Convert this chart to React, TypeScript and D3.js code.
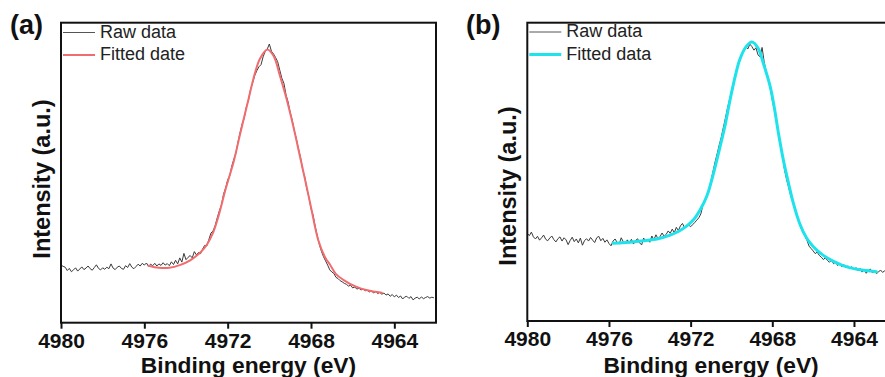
import { axisBottom, curveCatmullRom, curveLinear, line, scaleLinear, select } from "d3";
import React, { useEffect, useRef } from "react";

const width = 885;
const height = 377;
const font = "'Liberation Sans', Arial, sans-serif";

const energyTicks = [4980, 4976, 4972, 4968, 4964];
const energyDomain = [4980, 4962];
const rawStart = 4980;
const rawStep = 0.1;

// (a) raw intensity, 0.1 eV steps from 4980 eV, one row per eV
const rawA = [
  19.2, 18.8, 18.5, 17.4, 18.1, 17.0, 17.6, 18.3, 17.2, 17.9,
  18.6, 17.7, 18.2, 18.9, 18.0, 17.5, 18.4, 19.3, 18.1, 17.6,
  18.3, 17.8, 18.5, 18.0, 19.6, 18.2, 17.7, 18.5, 18.9, 18.1,
  17.8, 19.0, 18.4, 19.7, 18.5, 18.0, 18.7, 19.5, 18.9, 19.8,
  19.2, 19.9, 18.8, 19.5, 19.0, 19.8, 18.9, 19.6, 19.1, 20.0,
  19.2, 19.7, 19.0, 20.3, 19.4, 20.8, 19.6, 21.6, 20.2, 23.1,
  21.0, 21.8, 22.4, 21.6, 23.7, 22.6, 23.4, 23.0, 24.6, 25.8,
  25.6, 27.8, 29.9, 30.6, 32.4, 35.0, 37.3, 39.2, 42.8, 44.9,
  47.6, 49.0, 52.3, 54.6, 56.7, 60.4, 63.5, 66.4, 68.3, 72.0,
  74.2, 77.8, 80.0, 82.4, 84.0, 85.3, 86.0, 88.6, 90.4, 91.2,
  92.9, 90.5, 89.6, 88.4, 87.0, 84.2, 81.5, 79.8, 76.0, 73.6,
  70.1, 67.5, 64.0, 61.2, 57.9, 55.0, 51.0, 48.6, 44.6, 41.9,
  38.0, 35.9, 32.2, 29.0, 26.1, 23.8, 22.0, 20.6, 19.2, 17.6,
  16.9, 16.4, 15.1, 14.7, 14.0, 13.6, 13.1, 12.8, 12.2, 12.5,
  11.6, 11.9, 11.2, 11.5, 10.9, 11.3, 10.6, 10.9, 10.2, 10.7,
  9.9, 10.4, 9.7, 10.1, 9.5, 9.9, 9.2, 9.6, 8.8, 9.4,
  8.6, 9.2, 8.4, 8.9, 7.9, 8.6, 8.8, 8.1, 8.7, 7.6,
  8.2, 8.5, 7.9, 8.6, 8.0, 8.4, 8.7, 8.2, 8.5, 8.3,
];

// (a) fitted curve [eV, intensity]
const fitA = [
  [4975.8, 19.0], [4975.3, 18.3], [4974.8, 18.3], [4974.3, 19.2],
  [4973.8, 20.8], [4973.3, 23.5], [4973.0, 26.0], [4972.7, 30.0],
  [4972.45, 35.3], [4972.1, 44.5], [4971.7, 54.0], [4971.4, 63.0],
  [4971.0, 74.5], [4970.7, 83.0], [4970.45, 88.0], [4970.1, 91.1],
  [4969.8, 89.0], [4969.5, 82.5], [4969.2, 75.3], [4968.85, 65.5],
  [4968.5, 54.5], [4968.2, 45.0], [4968.0, 38.5], [4967.65, 27.5],
  [4967.3, 21.5], [4967.1, 19.5], [4966.8, 16.2], [4966.45, 14.3],
  [4965.84, 12.0], [4965.3, 10.8], [4964.6, 10.0],
];

// (b) raw intensity, 0.1 eV steps from 4980 eV
const rawB = [
  29.4, 28.6, 29.8, 28.2, 27.5, 28.4, 27.1, 27.9, 28.8, 27.4,
  26.9, 27.8, 28.5, 27.3, 26.5, 27.6, 28.2, 26.8, 27.9, 27.2,
  25.6, 27.0, 28.1, 26.6, 27.5, 26.2, 27.8, 25.4, 26.9, 27.6,
  26.8, 28.0, 27.1, 26.3, 27.9, 28.4, 26.9, 27.7, 26.4, 27.2,
  26.0, 25.2, 26.8, 27.5, 26.3, 25.8, 27.9, 26.6, 25.9, 27.2,
  26.1, 27.4, 25.8, 26.9, 27.6, 26.2, 25.5, 27.8, 26.7, 27.3,
  26.4, 28.5, 27.2, 28.9, 27.6, 28.3, 29.5, 28.4, 29.0, 30.2,
  29.4, 30.8, 29.6, 31.4, 30.3, 31.9, 32.7, 31.3, 31.8, 32.2,
  31.6, 32.3, 33.0, 33.8, 34.6, 35.9, 38.8, 40.2, 41.9, 44.0,
  47.2, 50.3, 53.4, 56.1, 59.0, 61.6, 64.8, 67.9, 71.2, 74.1,
  77.0, 80.1, 82.9, 85.6, 87.5, 88.9, 90.8, 92.0, 91.2, 92.8,
  92.0, 90.8, 91.6, 89.2, 88.6, 91.7, 87.0, 83.5, 80.9, 78.0,
  74.0, 70.6, 66.9, 62.5, 58.8, 54.9, 50.6, 47.4, 44.8, 42.0,
  40.1, 37.5, 35.0, 33.4, 31.2, 29.6, 28.4, 27.0, 25.1, 24.3,
  23.5, 22.6, 23.1, 22.0, 21.4, 20.6, 21.2, 20.3, 19.7, 20.4,
  19.2, 19.8, 18.6, 19.3, 18.2, 18.9, 17.8, 18.5, 17.6, 18.2,
  17.2, 17.9, 16.8, 17.6, 16.4, 17.3, 16.0, 16.9, 17.4, 16.2,
  16.8, 15.9, 16.4, 17.1, 16.3, 16.8, 17.4, 16.9, 17.2,
];

// (b) fitted curve [eV, intensity]
const fitB = [
  [4975.8, 26.1], [4975.0, 26.4], [4974.3, 26.9], [4973.6, 27.6],
  [4973.0, 28.8], [4972.6, 30.0], [4972.2, 31.8], [4971.85, 34.0],
  [4971.54, 37.2], [4971.2, 42.0], [4970.9, 49.0], [4970.56, 58.4],
  [4970.3, 66.0], [4970.07, 74.1], [4969.8, 82.5], [4969.6, 87.5],
  [4969.3, 91.8], [4969.0, 93.5], [4968.7, 91.5], [4968.44, 86.4],
  [4968.1, 78.5], [4967.9, 71.5], [4967.7, 63.0], [4967.46, 54.0],
  [4967.2, 46.0], [4966.97, 39.5], [4966.65, 32.5], [4966.32, 27.8],
  [4966.0, 25.0], [4965.5, 22.0], [4965.0, 20.0], [4964.5, 18.5],
  [4963.9, 17.4], [4963.4, 16.9], [4962.9, 16.5],
];

const Panel = ({ id, raw, fit, color, fitWidth, tag, fitLabel, box, tagX, titleY, legendY }) => {
  const axisRef = useRef(null);

  const x = scaleLinear().domain(energyDomain).range([box.left, box.right]);
  const y = scaleLinear().domain([0, 100]).range([box.bottom, box.top]);

  const rawPoints = raw.map((v, i) => [rawStart - i * rawStep, v]);
  const rawLine = line()
    .x((d) => x(d[0]))
    .y((d) => y(d[1]))
    .curve(curveLinear);
  const fitLine = line()
    .x((d) => x(d[0]))
    .y((d) => y(d[1]))
    .curve(curveCatmullRom.alpha(0.5));

  useEffect(() => {
    const g = select(axisRef.current);
    g.selectAll("*").remove();
    g.call(
      axisBottom(x)
        .tickValues(energyTicks)
        .tickFormat((d) => `${d}`)
        .tickSize(6)
        .tickSizeOuter(0)
        .tickPadding(4)
    );
    g.select(".domain").remove();
    g.selectAll(".tick line").attr("stroke", "#111").attr("stroke-width", 2);
    g.selectAll(".tick text")
      .attr("fill", "#111")
      .style("font-family", font)
      .style("font-size", "21px")
      .style("font-weight", "bold");
    // eslint-disable-next-line react-hooks/exhaustive-deps
  }, []);

  const midX = (box.left + box.right) / 2;
  const legX = box.left + 2;

  return (
    <g>
      <defs>
        <clipPath id={`clip-${id}`}>
          <rect x={box.left} y={box.top} width={box.right - box.left} height={box.bottom - box.top} />
        </clipPath>
      </defs>
      <g clipPath={`url(#clip-${id})`}>
        <path d={rawLine(rawPoints)} fill="none" stroke="#3a3a3a" strokeWidth={1} />
        <path d={fitLine(fit)} fill="none" stroke={color} strokeWidth={fitWidth} strokeLinecap="round" />
      </g>
      <rect
        x={box.left}
        y={box.top}
        width={box.right - box.left}
        height={box.bottom - box.top}
        fill="none"
        stroke="#111"
        strokeWidth={2}
      />
      <g ref={axisRef} transform={`translate(0,${box.bottom})`} />

      {/* legend */}
      <line x1={legX} x2={legX + 32} y1={legendY[0] - 5} y2={legendY[0] - 5} stroke="#555" strokeWidth={1} />
      <text x={legX + 37} y={legendY[0]} fontFamily={font} fontSize={18} fill="#222">
        Raw data
      </text>
      <line x1={legX} x2={legX + 32} y1={legendY[1] - 5} y2={legendY[1] - 5} stroke={color} strokeWidth={fitWidth} />
      <text x={legX + 37} y={legendY[1]} fontFamily={font} fontSize={18} fill="#222">
        {fitLabel}
      </text>

      <text x={tagX} y={34} fontFamily={font} fontSize={27} fontWeight="bold" fill="#111">
        {tag}
      </text>
      <text x={midX} y={372.5} textAnchor="middle" fontFamily={font} fontSize={22.8} fontWeight="bold" fill="#111">
        Binding energy (eV)
      </text>
      <text
        transform={`translate(${box.left - 11},${titleY}) rotate(-90)`}
        textAnchor="middle"
        fontFamily={font}
        fontSize={23.5}
        fontWeight="bold"
        fill="#111"
      >
        Intensity (a.u.)
      </text>
    </g>
  );
};

const App = () => {
  return (
    <svg
      width={width}
      height={height}
      style={{ position: "absolute", left: 0, top: 0, background: "#fff" }}
    >
      <Panel
        id="a"
        raw={rawA}
        fit={fitA}
        color="#f06c6e"
        fitWidth={2}
        tag="(a)"
        fitLabel="Fitted date"
        box={{ left: 61, right: 436, top: 22.7, bottom: 322.7 }}
        tagX={10}
        titleY={179}
        legendY={[37.5, 60]}
      />
      <Panel
        id="b"
        raw={rawB}
        fit={fitB}
        color="#1fe3ec"
        fitWidth={3}
        tag="(b)"
        fitLabel="Fitted data"
        box={{ left: 527.3, right: 894.8, top: 22.7, bottom: 321 }}
        tagX={466}
        titleY={186}
        legendY={[37, 59.5]}
      />
    </svg>
  );
};

export default App;
